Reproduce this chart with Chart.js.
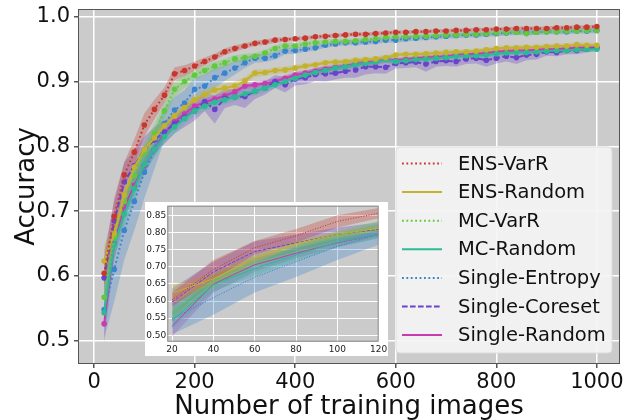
<!DOCTYPE html>
<html>
<head>
<meta charset="utf-8">
<script src="https://cdn.jsdelivr.net/npm/chart.js@4.4.1/dist/chart.umd.min.js"></script>
<style>
  html, body { margin: 0; padding: 0; background: #fff; }
  #wrap { position: relative; width: 624px; height: 420px; }
  #main { position: absolute; left: 0; top: 0; }
  #insetBox { position: absolute; left: 145px; top: 202px; width: 243px; height: 154px; background: #fff; }
  #inset { display: block; }
</style>
</head>
<body>
<div id="wrap">
  <canvas id="main" width="624" height="420"></canvas>
  <div id="insetBox"><canvas id="inset" width="243" height="154"></canvas></div>
</div>
<script>
// training set sizes
const xs = [20, 40, 60, 80, 100, 120, 140, 160, 180, 200,
  220, 240, 260, 280, 300, 320, 340, 360, 380, 400,
  420, 440, 460, 480, 500, 520, 540, 560, 580, 600,
  620, 640, 660, 680, 700, 720, 740, 760, 780, 800,
  820, 840, 860, 880, 900, 920, 940, 960, 980, 1000];

const xTicks = [0, 200, 400, 600, 800, 1000];
const yTicks = [0.5, 0.6, 0.7, 0.8, 0.9, 1.0];
const insetXTicks = [20, 40, 60, 80, 100, 120];
const insetYTicks = [0.50, 0.55, 0.60, 0.65, 0.70, 0.75, 0.80, 0.85];

const ensVarR = [0.604, 0.692, 0.756, 0.791, 0.833, 0.857, 0.879, 0.912, 0.917, 0.924,
  0.931, 0.938, 0.946, 0.951, 0.955, 0.959, 0.961, 0.964, 0.965, 0.966,
  0.967, 0.969, 0.970, 0.971, 0.972, 0.973, 0.973, 0.974, 0.975, 0.976,
  0.976, 0.977, 0.977, 0.978, 0.978, 0.979, 0.979, 0.980, 0.980, 0.981,
  0.981, 0.982, 0.982, 0.982, 0.982, 0.983, 0.983, 0.984, 0.984, 0.985];
const ensVarRStd = [0.02, 0.028, 0.02, 0.02, 0.018, 0.015, 0.012, 0.01, 0.008, 0.007,
  0.006, 0.005, 0.005, 0.005, 0.004, 0.004, 0.004, 0.004, 0.003, 0.003,
  0.003, 0.003, 0.003, 0.003, 0.003, 0.003, 0.003, 0.003, 0.003, 0.003,
  0.003, 0.003, 0.003, 0.003, 0.003, 0.003, 0.003, 0.003, 0.003, 0.003,
  0.003, 0.003, 0.003, 0.003, 0.003, 0.003, 0.003, 0.003, 0.003, 0.003];

const ensRandom = [0.623, 0.665, 0.725, 0.768, 0.795, 0.813, 0.832, 0.847, 0.860, 0.872,
  0.880, 0.887, 0.890, 0.893, 0.901, 0.913, 0.914, 0.917, 0.918, 0.921,
  0.924, 0.926, 0.929, 0.930, 0.931, 0.933, 0.934, 0.935, 0.937, 0.941,
  0.942, 0.942, 0.943, 0.944, 0.945, 0.946, 0.946, 0.947, 0.949, 0.951,
  0.952, 0.952, 0.953, 0.953, 0.954, 0.955, 0.955, 0.957, 0.956, 0.956];
const ensRandomStd = [0.025, 0.015, 0.012, 0.01, 0.008, 0.008, 0.007, 0.007, 0.007, 0.007,
  0.007, 0.007, 0.007, 0.007, 0.006, 0.006, 0.005, 0.005, 0.005, 0.005,
  0.004, 0.004, 0.004, 0.004, 0.004, 0.004, 0.004, 0.004, 0.004, 0.004,
  0.004, 0.004, 0.004, 0.004, 0.004, 0.004, 0.004, 0.004, 0.004, 0.004,
  0.004, 0.004, 0.004, 0.004, 0.004, 0.004, 0.004, 0.004, 0.004, 0.004];

const mcVarR = [0.567, 0.66, 0.715, 0.755, 0.79, 0.82, 0.855, 0.888, 0.900, 0.910,
  0.917, 0.924, 0.929, 0.935, 0.937, 0.939, 0.944, 0.951, 0.955, 0.955,
  0.958, 0.960, 0.961, 0.962, 0.962, 0.963, 0.965, 0.966, 0.968, 0.969,
  0.969, 0.970, 0.970, 0.971, 0.972, 0.972, 0.973, 0.973, 0.974, 0.975,
  0.976, 0.976, 0.974, 0.976, 0.977, 0.977, 0.978, 0.978, 0.979, 0.979];
const mcVarRStd = [0.02, 0.02, 0.015, 0.015, 0.015, 0.015, 0.012, 0.012, 0.01, 0.008,
  0.007, 0.007, 0.006, 0.006, 0.006, 0.005, 0.005, 0.005, 0.005, 0.004,
  0.004, 0.004, 0.004, 0.004, 0.004, 0.004, 0.004, 0.004, 0.004, 0.004,
  0.003, 0.003, 0.003, 0.003, 0.003, 0.003, 0.003, 0.003, 0.003, 0.003,
  0.003, 0.003, 0.004, 0.003, 0.003, 0.003, 0.003, 0.003, 0.003, 0.003];

const mcRandom = [0.543, 0.648, 0.695, 0.735, 0.772, 0.795, 0.815, 0.83, 0.843, 0.855,
  0.862, 0.868, 0.872, 0.876, 0.881, 0.885, 0.890, 0.895, 0.900, 0.905,
  0.910, 0.914, 0.917, 0.921, 0.923, 0.926, 0.928, 0.930, 0.934, 0.931,
  0.932, 0.934, 0.935, 0.936, 0.937, 0.939, 0.940, 0.940, 0.941, 0.943,
  0.944, 0.945, 0.945, 0.946, 0.947, 0.948, 0.948, 0.949, 0.950, 0.950];
const mcRandomStd = [0.025, 0.02, 0.02, 0.018, 0.015, 0.012, 0.01, 0.01, 0.008, 0.008,
  0.007, 0.007, 0.007, 0.006, 0.006, 0.006, 0.006, 0.005, 0.005, 0.005,
  0.005, 0.005, 0.005, 0.005, 0.005, 0.005, 0.005, 0.005, 0.005, 0.005,
  0.005, 0.005, 0.005, 0.005, 0.005, 0.005, 0.005, 0.005, 0.005, 0.005,
  0.004, 0.004, 0.004, 0.004, 0.004, 0.004, 0.004, 0.004, 0.004, 0.004];

const singleEntropy = [0.548, 0.61, 0.67, 0.715, 0.76, 0.795, 0.835, 0.856, 0.867, 0.888,
  0.893, 0.906, 0.913, 0.921, 0.929, 0.936, 0.936, 0.940, 0.947, 0.948,
  0.950, 0.952, 0.956, 0.958, 0.960, 0.960, 0.961, 0.962, 0.964, 0.964,
  0.966, 0.967, 0.968, 0.969, 0.970, 0.971, 0.972, 0.972, 0.973, 0.974,
  0.975, 0.976, 0.976, 0.976, 0.977, 0.977, 0.977, 0.978, 0.978, 0.979];
const singleEntropyStd = [0.045, 0.05, 0.045, 0.045, 0.04, 0.03, 0.025, 0.02, 0.02, 0.018,
  0.018, 0.015, 0.012, 0.01, 0.008, 0.007, 0.006, 0.006, 0.005, 0.005,
  0.004, 0.004, 0.004, 0.004, 0.004, 0.004, 0.004, 0.004, 0.004, 0.004,
  0.004, 0.004, 0.004, 0.004, 0.004, 0.004, 0.004, 0.004, 0.004, 0.004,
  0.004, 0.004, 0.004, 0.004, 0.004, 0.004, 0.004, 0.004, 0.004, 0.004];

const singleCoreset = [0.597, 0.685, 0.745, 0.77, 0.795, 0.81, 0.822, 0.835, 0.845, 0.855,
  0.869, 0.857, 0.874, 0.876, 0.877, 0.885, 0.890, 0.900, 0.895, 0.904,
  0.906, 0.911, 0.912, 0.913, 0.916, 0.918, 0.923, 0.923, 0.922, 0.928,
  0.929, 0.930, 0.927, 0.931, 0.932, 0.931, 0.935, 0.936, 0.933, 0.936,
  0.939, 0.937, 0.941, 0.942, 0.946, 0.945, 0.948, 0.948, 0.950, 0.952];
const singleCoresetStd = [0.04, 0.03, 0.03, 0.025, 0.02, 0.02, 0.018, 0.015, 0.015, 0.015,
  0.015, 0.022, 0.015, 0.012, 0.018, 0.012, 0.01, 0.01, 0.012, 0.01,
  0.01, 0.01, 0.012, 0.01, 0.01, 0.012, 0.012, 0.01, 0.01, 0.008,
  0.008, 0.008, 0.012, 0.008, 0.008, 0.008, 0.008, 0.008, 0.01, 0.008,
  0.008, 0.01, 0.008, 0.008, 0.006, 0.006, 0.006, 0.006, 0.005, 0.005];

const singleRandom = [0.526, 0.65, 0.706, 0.74, 0.77, 0.795, 0.82, 0.838, 0.85, 0.862,
  0.868, 0.873, 0.878, 0.884, 0.893, 0.895, 0.897, 0.900, 0.905, 0.910,
  0.913, 0.916, 0.919, 0.922, 0.924, 0.927, 0.929, 0.931, 0.935, 0.932,
  0.934, 0.936, 0.937, 0.938, 0.939, 0.941, 0.942, 0.943, 0.944, 0.946,
  0.947, 0.948, 0.948, 0.949, 0.950, 0.950, 0.951, 0.952, 0.952, 0.953];
const singleRandomStd = [0.03, 0.025, 0.02, 0.015, 0.012, 0.01, 0.008, 0.008, 0.007, 0.007,
  0.006, 0.006, 0.006, 0.006, 0.005, 0.005, 0.005, 0.005, 0.005, 0.005,
  0.005, 0.005, 0.005, 0.005, 0.005, 0.005, 0.005, 0.005, 0.005, 0.005,
  0.004, 0.004, 0.004, 0.004, 0.004, 0.004, 0.004, 0.004, 0.004, 0.004,
  0.004, 0.004, 0.004, 0.004, 0.004, 0.004, 0.004, 0.004, 0.004, 0.004];

const dotted = [1.8, 2.6];
const dashed = [5.6, 2.4];
const series = [
  { label: 'ENS-VarR', mean: ensVarR, std: ensVarRStd, color: '#c8372d', dash: dotted },
  { label: 'ENS-Random', mean: ensRandom, std: ensRandomStd, color: '#c2b22c', dash: [] },
  { label: 'MC-VarR', mean: mcVarR, std: mcVarRStd, color: '#5fca3f', dash: dotted },
  { label: 'MC-Random', mean: mcRandom, std: mcRandomStd, color: '#2bbb94', dash: [] },
  { label: 'Single-Entropy', mean: singleEntropy, std: singleEntropyStd, color: '#3a83cf', dash: dotted },
  { label: 'Single-Coreset', mean: singleCoreset, std: singleCoresetStd, color: '#6a42cc', dash: dashed },
  { label: 'Single-Random', mean: singleRandom, std: singleRandomStd, color: '#c73cae', dash: [] }
];

Chart.defaults.font.family = "'DejaVu Sans', sans-serif";
Chart.defaults.color = '#111';

function rgba(hex, a) {
  const n = parseInt(hex.slice(1), 16);
  return 'rgba(' + (n >> 16) + ',' + ((n >> 8) & 255) + ',' + (n & 255) + ',' + a + ')';
}

function buildSets(count, lineWidth, pointRadius, dashScale) {
  const sets = [];
  series.forEach(s => {
    const upper = [], lower = [], line = [];
    for (let i = 0; i < count; i++) {
      upper.push({ x: xs[i], y: s.mean[i] + s.std[i] });
      lower.push({ x: xs[i], y: s.mean[i] - s.std[i] });
      line.push({ x: xs[i], y: s.mean[i] });
    }
    sets.push({ data: upper, borderWidth: 0, pointRadius: 0, backgroundColor: rgba(s.color, 0.3), fill: '+1', order: 3 });
    sets.push({ data: lower, borderWidth: 0, pointRadius: 0, fill: false, order: 3 });
    sets.push({
      label: s.label, data: line, borderColor: s.color, backgroundColor: s.color,
      borderWidth: lineWidth, borderDash: s.dash.map(d => d * dashScale),
      pointRadius: pointRadius, pointBackgroundColor: s.color, pointBorderWidth: 0,
      fill: false, order: 1
    });
  });
  return sets;
}

// grey plot background + spines
function frame(bg, edge) {
  return {
    id: 'frame',
    beforeDraw(chart) {
      const a = chart.chartArea, ctx = chart.ctx;
      ctx.save();
      ctx.fillStyle = bg;
      ctx.fillRect(a.left, a.top, a.right - a.left, a.bottom - a.top);
      ctx.restore();
    },
    afterDatasetsDraw(chart) {
      const a = chart.chartArea, ctx = chart.ctx;
      ctx.save();
      ctx.strokeStyle = edge;
      ctx.lineWidth = 1;
      ctx.strokeRect(a.left + 0.5, a.top + 0.5, a.right - a.left - 1, a.bottom - a.top - 1);
      ctx.restore();
    }
  };
}

// legend box sitting inside the plot, lower right
const boxLegend = {
  id: 'boxLegend',
  afterDraw(chart) {
    const ctx = chart.ctx;
    ctx.save();
    const bx = 396, by = 147, bw = 216, bh = 206, r = 4;
    ctx.beginPath();
    ctx.moveTo(bx + r, by);
    ctx.arcTo(bx + bw, by, bx + bw, by + bh, r);
    ctx.arcTo(bx + bw, by + bh, bx, by + bh, r);
    ctx.arcTo(bx, by + bh, bx, by, r);
    ctx.arcTo(bx, by, bx + bw, by, r);
    ctx.closePath();
    ctx.fillStyle = 'rgba(244,244,244,0.92)';
    ctx.fill();
    ctx.strokeStyle = '#dcdcdc';
    ctx.lineWidth = 1;
    ctx.stroke();
    ctx.font = "19.5px 'DejaVu Sans'";
    ctx.textBaseline = 'middle';
    series.forEach((s, i) => {
      const y = 163.5 + i * 28.6;
      ctx.strokeStyle = s.color;
      ctx.lineWidth = 2;
      ctx.setLineDash(s.dash);
      ctx.beginPath();
      ctx.moveTo(402, y);
      ctx.lineTo(442, y);
      ctx.stroke();
      ctx.setLineDash([]);
      ctx.fillStyle = '#111';
      ctx.fillText(s.label, 458, y + 1);
    });
    ctx.restore();
  }
};

new Chart(document.getElementById('main'), {
  type: 'line',
  data: { datasets: buildSets(xs.length, 2, 2.8, 1) },
  options: {
    responsive: false,
    animation: false,
    devicePixelRatio: 1,
    events: [],
    layout: { padding: { top: 9, right: 2, left: 0, bottom: 0 } },
    elements: { line: { tension: 0 } },
    plugins: { legend: { display: false }, tooltip: { enabled: false } },
    scales: {
      x: {
        type: 'linear', min: -32, max: 1046,
        afterBuildTicks: s => { s.ticks = xTicks.map(v => ({ value: v })); },
        afterFit: s => { s.height = 56; s.paddingLeft = 0; s.paddingRight = 0; },
        grid: { color: '#ffffff', lineWidth: 1.5, tickColor: '#555', tickLength: 4 },
        border: { display: false },
        ticks: { font: { size: 21 }, padding: 2, autoSkip: false, maxRotation: 0, callback: v => String(v) },
        title: { display: true, text: 'Number of training images', font: { size: 26, lineHeight: 1.0 }, padding: { top: 0, bottom: 0 } }
      },
      y: {
        type: 'linear', min: 0.464, max: 1.012,
        afterBuildTicks: s => { s.ticks = yTicks.map(v => ({ value: v })); },
        afterFit: s => { s.width = 78; s.paddingTop = 0; s.paddingBottom = 0; },
        grid: { color: '#ffffff', lineWidth: 1.5, tickColor: '#555', tickLength: 4 },
        border: { display: false },
        ticks: { font: { size: 21 }, padding: 4, autoSkip: false, callback: v => v.toFixed(1) },
        title: { display: true, text: 'Accuracy', font: { size: 26 }, padding: { top: 12, bottom: 0 } }
      }
    }
  },
  plugins: [frame('#cbcbcb', '#555'), boxLegend]
});

// zoomed view of the first six sizes
new Chart(document.getElementById('inset'), {
  type: 'line',
  data: { datasets: buildSets(6, 1, 0, 0.6) },
  options: {
    responsive: false,
    animation: false,
    devicePixelRatio: 1,
    events: [],
    layout: { padding: { top: 3.7, right: 9.3, left: 0, bottom: 0 } },
    elements: { line: { tension: 0 } },
    plugins: { legend: { display: false }, tooltip: { enabled: false } },
    scales: {
      x: {
        type: 'linear', min: 17.7, max: 120,
        afterBuildTicks: s => { s.ticks = insetXTicks.map(v => ({ value: v })); },
        afterFit: s => { s.height = 14.3; s.paddingLeft = 0; s.paddingRight = 0; },
        grid: { color: '#ffffff', lineWidth: 1, drawTicks: false },
        border: { display: false },
        ticks: { font: { size: 9 }, color: '#222', padding: 3, autoSkip: false, maxRotation: 0, callback: v => String(v) }
      },
      y: {
        type: 'linear', min: 0.481, max: 0.879,
        afterBuildTicks: s => { s.ticks = insetYTicks.map(v => ({ value: v })); },
        afterFit: s => { s.width = 22.3; s.paddingTop = 0; s.paddingBottom = 0; },
        grid: { color: '#ffffff', lineWidth: 1, drawTicks: false },
        border: { display: false },
        ticks: { font: { size: 9 }, color: '#222', padding: 1, autoSkip: false, callback: v => v.toFixed(2) }
      }
    }
  },
  plugins: [frame('#cbcbcb', '#888')]
});
</script>
</body>
</html>
